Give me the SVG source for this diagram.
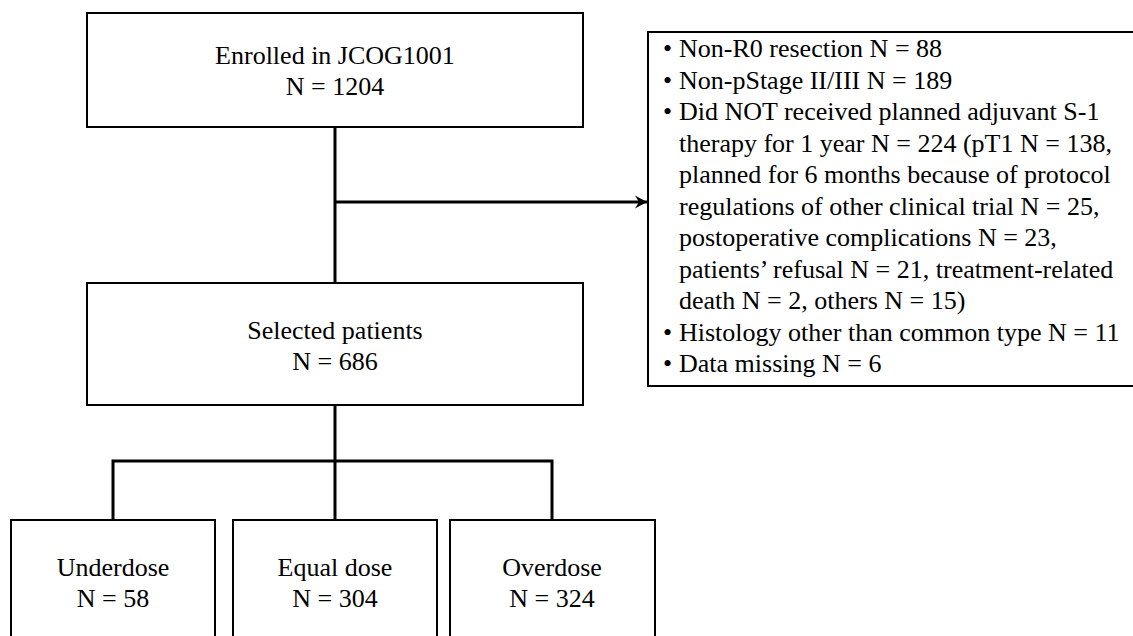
<svg xmlns="http://www.w3.org/2000/svg" width="1133" height="636" viewBox="0 0 1133 636" font-family="'Liberation Serif','Times New Roman',serif">
<defs>
<style>
.box{fill:#fff;stroke:#000;stroke-width:2}
.conn{fill:none;stroke:#000;stroke-width:3}
text{font-family:"Liberation Serif","Times New Roman",serif;font-size:26px;fill:#000}
.c{text-anchor:middle}
</style>
<marker id="arr" markerWidth="14" markerHeight="14" refX="13" refY="7" orient="auto" markerUnits="userSpaceOnUse">
<path d="M1,0.5 L13,7 L1,13.5 L5,7 Z" fill="#000"/>
</marker>
</defs>
<rect width="1133" height="636" fill="#fff"/>
<g id="connectors">
<line class="conn" x1="335" y1="127" x2="335" y2="283"/>
<line class="conn" x1="335" y1="202" x2="647" y2="202" marker-end="url(#arr)"/>
<line class="conn" x1="335" y1="405" x2="335" y2="520"/>
<polyline class="conn" points="113,520 113,461 552,461 552,520"/>
</g>
<g id="enrolled">
<rect class="box" x="87" y="13" width="496" height="114"/>
<text class="c" x="335" y="64">Enrolled in JCOG1001</text>
<text class="c" x="335" y="95">N = 1204</text>
</g>
<g id="excluded">
<rect class="box" x="648" y="32" width="500" height="354"/>
<text x="663" y="57">•</text><text x="679" y="57">Non-R0 resection N = 88</text>
<text x="663" y="88.5">•</text><text x="679" y="88.5">Non-pStage II/III N = 189</text>
<text x="663" y="120">•</text><text x="679" y="120">Did NOT received planned adjuvant S-1</text>
<text x="679" y="151.5">therapy for 1 year N = 224 (pT1 N = 138,</text>
<text x="679" y="183">planned for 6 months because of protocol</text>
<text x="679" y="214.5">regulations of other clinical trial N = 25,</text>
<text x="679" y="246">postoperative complications N = 23,</text>
<text x="679" y="277.5">patients’ refusal N = 21, treatment-related</text>
<text x="679" y="309">death N = 2, others N = 15)</text>
<text x="663" y="340.5">•</text><text x="679" y="340.5">Histology other than common type N = 11</text>
<text x="663" y="372">•</text><text x="679" y="372">Data missing N = 6</text>
</g>
<g id="selected">
<rect class="box" x="87" y="283" width="496" height="122"/>
<text class="c" x="335" y="339">Selected patients</text>
<text class="c" x="335" y="370">N = 686</text>
</g>
<g id="underdose">
<rect class="box" x="11" y="520" width="204" height="130"/>
<text class="c" x="113" y="576">Underdose</text>
<text class="c" x="113" y="607">N = 58</text>
</g>
<g id="equal">
<rect class="box" x="233" y="520" width="204" height="130"/>
<text class="c" x="335" y="576">Equal dose</text>
<text class="c" x="335" y="607">N = 304</text>
</g>
<g id="overdose">
<rect class="box" x="450" y="520" width="205" height="130"/>
<text class="c" x="552" y="576">Overdose</text>
<text class="c" x="552" y="607">N = 324</text>
</g>
</svg>
